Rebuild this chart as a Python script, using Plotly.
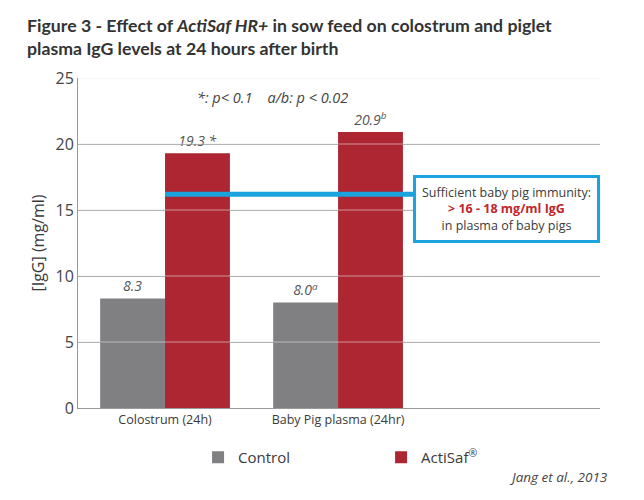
import plotly.graph_objects as go

categories = ["Colostrum (24h)", "Baby Pig plasma (24hr)"]
control = [8.3, 8.0]
actisaf = [19.3, 20.9]
control_labels = ["<i>8.3</i>", "<i>8.0<sup>a</sup></i>"]
actisaf_labels = ["<i>19.3 *</i>", "<i>20.9<sup>b</sup></i>"]
threshold = 16.2
y_ticks = [0, 5, 10, 15, 20, 25]
title_text = ("<b>Figure 3 - Effect of <i>ActiSaf HR+</i> in sow feed on colostrum and piglet<br>"
              "plasma IgG levels at 24 hours after birth</b>")

GRAY = "#808083"
RED = "#ad2632"
BLUE = "#1aa3dc"
TXT = "#3a3a3a"
FONT = "Open Sans"

xpos = list(range(len(categories)))

fig = go.Figure()
fig.add_bar(x=xpos, y=control, name="Control", marker_color=GRAY, marker_line_width=0,
            text=control_labels, textposition="outside", cliponaxis=False,
            textfont=dict(family=FONT, size=14, color="#555"))
fig.add_bar(x=xpos, y=actisaf, name="ActiSaf<sup>®</sup>", marker_color=RED, marker_line_width=0,
            text=actisaf_labels, textposition="outside", cliponaxis=False,
            textfont=dict(family=FONT, size=14, color="#555"))

# threshold line
fig.add_trace(go.Scatter(x=[0, 1.45], y=[threshold, threshold], mode="lines",
                         line=dict(color=BLUE, width=5), showlegend=False, hoverinfo="skip"))

# gridlines over bars (light)
for v in y_ticks[1:]:
    fig.add_shape(type="line", xref="paper", x0=0, x1=1, yref="y", y0=v, y1=v,
                  line=dict(color="rgba(225,225,225,0.6)", width=1), layer="above")

fig.update_layout(
    width=644, height=500,
    margin=dict(l=78, r=44, t=78, b=92, autoexpand=False),
    paper_bgcolor="white", plot_bgcolor="white",
    barmode="group", bargap=0.25, bargroupgap=0,
    font=dict(family=FONT, color=TXT),
    xaxis=dict(range=[-0.503, 2.514], tickvals=xpos, ticktext=categories, automargin=False,
               showgrid=False, zeroline=False, showline=True, linecolor="#999", linewidth=1,
               ticks="", tickfont=dict(family=FONT, size=12.5, color=TXT)),
    yaxis=dict(range=[0, 25], tickvals=y_ticks, showgrid=True, gridcolor="#a0a0a0", gridwidth=1,
               automargin=False,
               zeroline=False, showline=True, linecolor="#999", linewidth=1, ticks="",
               tickfont=dict(family=FONT, size=16, color="#444"),
               title=dict(text="[IgG] (mg/ml)", font=dict(family=FONT, size=16, color=TXT), standoff=6)),
    legend=dict(orientation="h", x=0.23, xanchor="left", y=-0.1, yanchor="top",
                entrywidth=138, entrywidthmode="pixels",
                font=dict(family=FONT, size=15, color=TXT), bgcolor="rgba(0,0,0,0)"),
    showlegend=True,
)

fig.add_annotation(text=title_text, xref="paper", yref="paper", align="left",
                   x=-0.102, y=1 + (78 - 37.5) / 330, xanchor="left", yanchor="middle",
                   showarrow=False, font=dict(family="Lato", size=17.7, color="#333"))

fig.add_annotation(text="<i>*: p&lt; 0.1    a/b: p &lt; 0.02</i>", xref="paper", yref="paper",
                   x=0.225, y=0.94, xanchor="left", yanchor="middle", showarrow=False,
                   font=dict(family=FONT, size=14.5, color="#444"))

fig.add_annotation(text="Sufficient baby pig immunity:<br><b><span style='color:#c0272d'>&gt; 16 - 18 mg/ml IgG</span></b><br>in plasma of baby pigs",
                   xref="paper", yref="y", x=1.0, y=threshold, yshift=-15,
                   xanchor="right", yanchor="middle",
                   showarrow=False, align="center", bgcolor="white",
                   bordercolor=BLUE, borderwidth=3, borderpad=6,
                   font=dict(family=FONT, size=12.5, color=TXT))

fig.add_annotation(text="<i>Jang et al., 2013</i>", xref="paper", yref="paper",
                   x=1.019, y=-0.21, xanchor="right", yanchor="middle", showarrow=False,
                   font=dict(family=FONT, size=13.5, color="#444"))

fig.write_html("out.html", config={"displayModeBar": False},
               post_script="document.body.style.margin='0px';")
